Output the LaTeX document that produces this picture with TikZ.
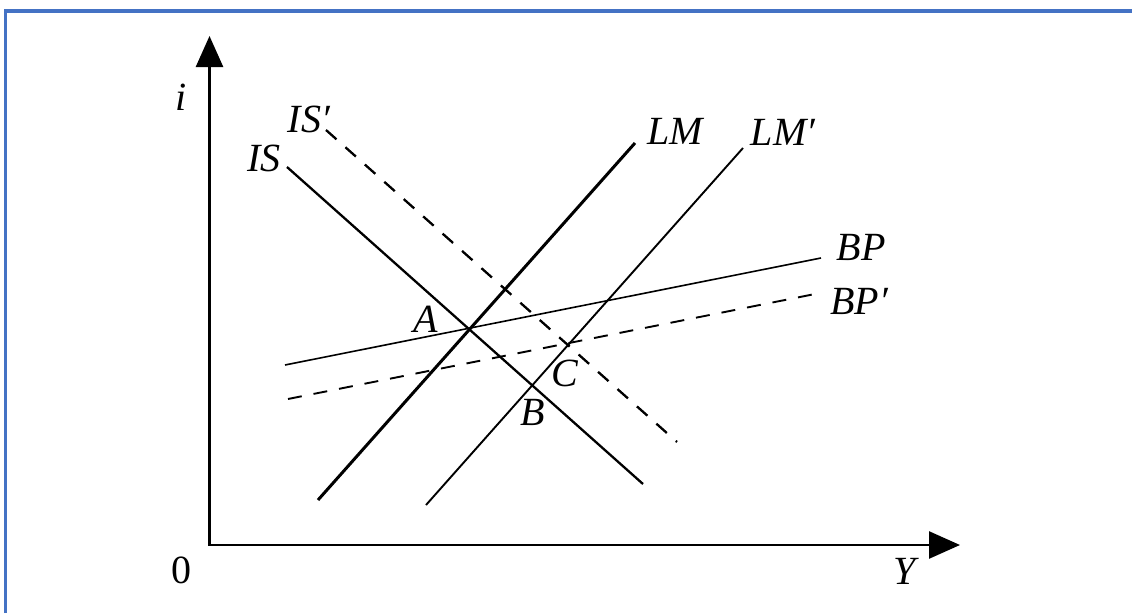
\documentclass[tikz,border=0pt]{standalone}
\usepackage{fontspec}
\setmainfont{Liberation Serif}
\usetikzlibrary{arrows.meta}
\definecolor{frameblue}{RGB}{68,114,196}
\begin{document}
\begin{tikzpicture}[x=1pt,y=-1pt,
  lbl/.style={font=\fontsize{40}{44}\selectfont\itshape, inner sep=0pt},
  num/.style={font=\fontsize{40}{44}\selectfont, inner sep=0pt},
  frame/.style={draw=frameblue, line width=3.6pt},
  axisline/.style={line width=2.6pt, line join=miter,
    {Triangle[length=31pt,width=27pt]}-{Triangle[length=31pt,width=27pt]}},
  dashpat/.style={dash pattern=on 14pt off 12pt},
  curvethick/.style={line width=3pt},
  curvemid/.style={line width=2.3pt},
  curvethin/.style={line width=1.9pt},
  curvehair/.style={line width=1.6pt}
]
\useasboundingbox (0,0) rectangle (1132,613);
\fill[white] (0,0) rectangle (1132,613);
% frame (top and left edges visible)
\coordinate (fbl) at (5.5,613);
\coordinate (ftl) at (5.5,11.2);
\coordinate (ftr) at (1132,11.2);
\draw[frame] (fbl) -- (ftl) -- (ftr);
% axes
\coordinate (O) at (209.5,545);
\coordinate (ytop) at (209.5,36);
\coordinate (xend) at (960,545);
\draw[axisline] (ytop) -- (O) -- (xend);
% curve end points
\coordinate (is1) at (287,167);   \coordinate (is2) at (643,484);
\coordinate (isp1) at (326,130);  \coordinate (isp2) at (677,442);
\coordinate (lm1) at (318,500);   \coordinate (lm2) at (635,143);
\coordinate (lmp1) at (426,505);  \coordinate (lmp2) at (743,148);
\coordinate (bp1) at (285,365);   \coordinate (bp2) at (821,258);
\coordinate (bpp1) at (288,399);  \coordinate (bpp2) at (815,294);
% curves
\draw[curvemid] (is1) -- (is2);
\draw[curvemid, dashpat] (isp1) -- (isp2);
\draw[curvethick] (lm1) -- (lm2);
\draw[curvethin] (lmp1) -- (lmp2);
\draw[curvehair] (bp1) -- (bp2);
\draw[curvethin, dashpat] (bpp1) -- (bpp2);
% labels
\node[lbl] (iL) at (181,97) {i};
\node[num] (zeroL) at (181,570) {0};
\node[lbl] (YL) at (905,571) {Y};
\node[lbl] (ISL) at (264,158) {IS};
\node[lbl] (ISpL) at (309,119) {IS′};
\node[lbl] (LML) at (675,131) {LM};
\node[lbl] (LMpL) at (783,132) {LM′};
\node[lbl] (BPL) at (861,247) {BP};
\node[lbl] (BPpL) at (859,301) {BP′};
\node[lbl] (AL) at (426,319) {A};
\node[lbl] (BL) at (533,412) {B};
\node[lbl] (CL) at (565,373) {C};
\end{tikzpicture}
\end{document}
